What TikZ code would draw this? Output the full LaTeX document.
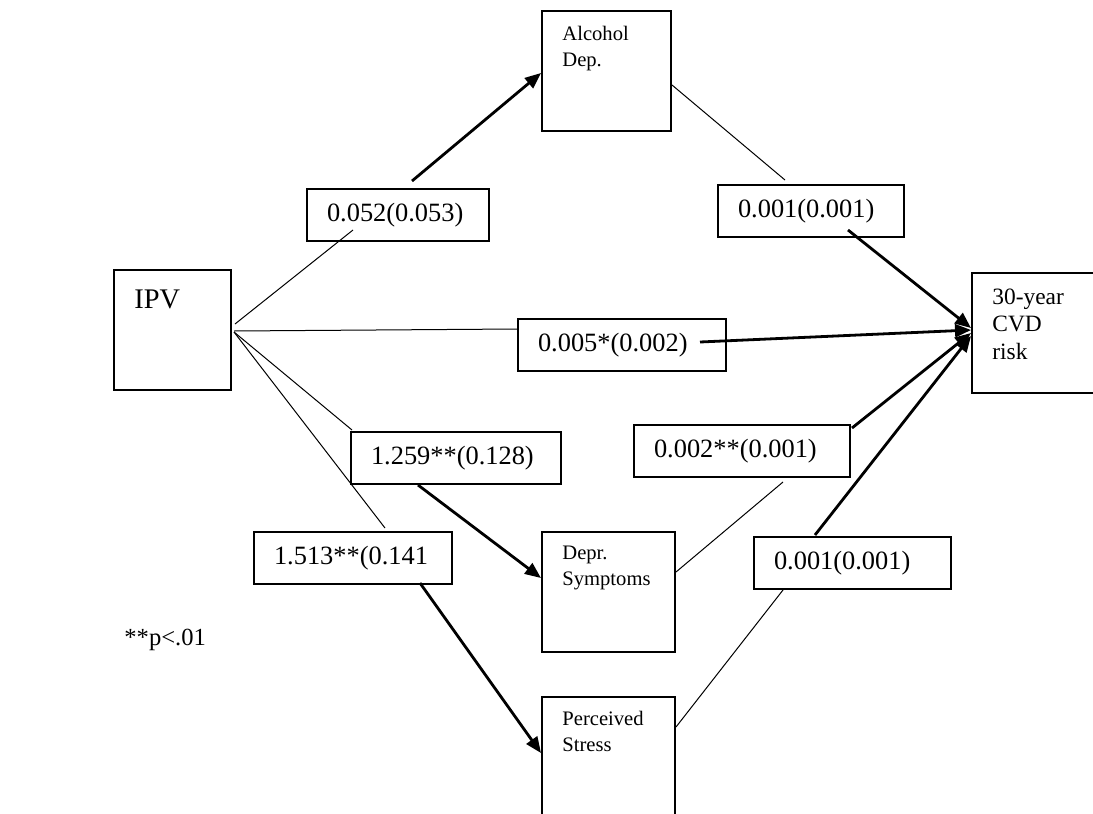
\documentclass[tikz,border=0pt]{standalone}
\usepackage{fontspec}
\setmainfont{Liberation Serif}
\usetikzlibrary{arrows.meta,calc}
\begin{document}
\begin{tikzpicture}[x=0.5pt,y=-0.5pt,
  bigbox/.style={draw, line width=1pt, anchor=north west, inner sep=0pt},
  numbox/.style={draw, line width=1pt, anchor=north west, inner xsep=10pt,
    inner ysep=0pt, minimum height=26pt, align=left,
    font=\fontsize{13.2pt}{15pt}\selectfont},
  % multi-line captions: the base anchor sits on the last line
  boxtext/.style={anchor=base west, inner sep=0pt, align=left,
    font=\fontsize{10.3pt}{12.8pt}\selectfont},
  lightline/.style={line width=0.5pt},
  heavyarrow/.style={line width=1.4pt, -{Triangle[length=8pt,width=6.5pt]}}
]
\useasboundingbox (0,0) rectangle (1093,814);
\clip (0,0) rectangle (1093,814);

% variable boxes
\node[bigbox, minimum width=58.5pt, minimum height=60pt] (ipv) at (113,269) {};
\node[bigbox, minimum width=64.5pt, minimum height=60pt] (alc) at (541,10) {};
\node[bigbox, minimum width=65pt, minimum height=60pt] (cvd) at (971,272) {};
\node[bigbox, minimum width=66.5pt, minimum height=60pt] (dep) at (541,531) {};
\node[bigbox, minimum width=66.5pt, minimum height=70pt] (pst) at (541,696) {};

% box captions
\node[boxtext, font=\fontsize{14.2pt}{17pt}\selectfont] (ipvtext) at (134,308) {IPV};
\node[boxtext] (alctext) at (562,66) {Alcohol\\Dep.};
\node[boxtext, font=\fontsize{11.7pt}{13.75pt}\selectfont] (cvdtext) at (992,359) {30-year\\CVD\\risk};
\node[boxtext] (deptext) at (562,585) {Depr.\\Symptoms};
\node[boxtext] (psttext) at (562,751) {Perceived\\Stress};
\node[anchor=base west, inner sep=0pt, font=\fontsize{12.3pt}{15pt}\selectfont] (note) at (124,645) {**p<.01};

% coefficient boxes
\node[numbox, text width=71pt] (c1) at (306,188) {0.052(0.053)};
\node[numbox, text width=73pt] (c2) at (717,184) {0.001(0.001)};
\node[numbox, text width=84pt] (c3) at (517,318) {0.005*(0.002)};
\node[numbox, text width=88pt] (c4) at (633,424) {0.002**(0.001)};
\node[numbox, text width=85pt] (c5) at (350,431) {1.259**(0.128)};
\node[numbox, text width=79pt] (c6) at (253,531) {1.513**(0.141};
\node[numbox, text width=78.5pt] (c7) at (753,536) {0.001(0.001)};

% connector end points
\coordinate (ipvUp) at ($(ipv.north east)+(3,55)$);
\coordinate (ipvMid) at ($(ipv.north east)+(2,62)$);
\coordinate (ipvLow) at ($(ipv.north east)+(2,63)$);
\coordinate (alcIn) at ($(alc.north west)+(0,63)$);
\coordinate (alcOut) at ($(alc.north east)+(0,75)$);
\coordinate (depIn) at ($(dep.north west)+(0,47)$);
\coordinate (depOut) at ($(dep.north east)+(0,41)$);
\coordinate (pstIn) at ($(pst.north west)+(0,57)$);
\coordinate (pstOut) at ($(pst.north east)+(0,31)$);
\coordinate (cvdA) at ($(cvd.north west)+(0,56)$);
\coordinate (cvdB) at ($(cvd.north west)+(0,58)$);
\coordinate (cvdC) at ($(cvd.north west)+(0,61)$);
\coordinate (cvdD) at ($(cvd.north west)+(0,64)$);
\coordinate (c1in) at ($(c1.north west)+(47,42)$);
\coordinate (c1out) at ($(c1.north west)+(106,-7)$);
\coordinate (c2in) at ($(c2.north west)+(68,-4)$);
\coordinate (c2out) at ($(c2.north west)+(131,46)$);
\coordinate (c3in) at ($(c3.north west)+(0,11)$);
\coordinate (c3out) at ($(c3.north west)+(183,24)$);
\coordinate (c4in) at ($(c4.north west)+(150,58)$);
\coordinate (c4out) at ($(c4.north west)+(219,4)$);
\coordinate (c5in) at ($(c5.north west)+(2,-1)$);
\coordinate (c5out) at ($(c5.north west)+(68,54)$);
\coordinate (c6in) at ($(c6.north west)+(132,-3)$);
\coordinate (c6out) at ($(c6.north west)+(167,52)$);
\coordinate (c7in) at ($(c7.north west)+(30,54)$);
\coordinate (c7out) at ($(c7.north west)+(62,-1)$);

% IPV -> alcohol dependence -> CVD risk
\draw[lightline] (ipvUp) -- (c1in);
\draw[heavyarrow] (c1out) -- (alcIn);
\draw[lightline] (alcOut) -- (c2in);
\draw[heavyarrow] (c2out) -- (cvdA);

% direct path
\draw[lightline] (ipvMid) -- (c3in);
\draw[heavyarrow] (c3out) -- (cvdB);

% IPV -> depressive symptoms -> CVD risk
\draw[lightline] (ipvLow) -- (c5in);
\draw[heavyarrow] (c5out) -- (depIn);
\draw[lightline] (depOut) -- (c4in);
\draw[heavyarrow] (c4out) -- (cvdC);

% IPV -> perceived stress -> CVD risk
\draw[lightline] (ipvLow) -- (c6in);
\draw[heavyarrow] (c6out) -- (pstIn);
\draw[lightline] (pstOut) -- (c7in);
\draw[heavyarrow] (c7out) -- (cvdD);
\end{tikzpicture}
\end{document}
